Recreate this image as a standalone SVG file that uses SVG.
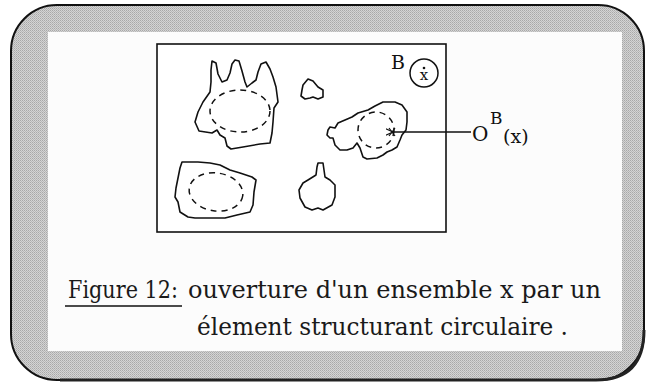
<svg xmlns="http://www.w3.org/2000/svg" width="648" height="384" viewBox="0 0 648 384">
<style>
.blob{fill:none;stroke:#111;stroke-width:1.6;stroke-linejoin:round}
.dash{fill:none;stroke:#111;stroke-width:1.5;stroke-dasharray:6 5}
.cap{font-family:"DejaVu Serif","Liberation Serif",serif;font-size:24px;fill:#1a1a1a}
.lbl{font-family:"DejaVu Serif","Liberation Serif",serif;fill:#111}
</style>
<defs>
<pattern id="dots" width="2" height="2" patternUnits="userSpaceOnUse">
<rect width="2" height="2" fill="#d4d4d4"/>
<rect width="1" height="1" fill="#a8a8a8"/>
<rect x="1" y="1" width="1" height="1" fill="#b8b8b8"/>
</pattern>
<marker id="ah" viewBox="0 0 10 10" refX="1" refY="5" markerWidth="8" markerHeight="8" orient="auto-start-reverse" markerUnits="userSpaceOnUse">
<path d="M10,1 L1,5 L10,9" fill="none" stroke="#111" stroke-width="1.5"/>
</marker>
</defs>
<rect width="648" height="384" fill="#fff"/>
<g id="panel">
<rect x="11" y="5" width="633" height="375" rx="46" ry="46" fill="url(#dots)" stroke="#111" stroke-width="2"/>
<path d="M644,330 Q644,380 596,380 L60,380" fill="none" stroke="#222" stroke-width="3"/>
<rect x="48" y="32" width="574" height="319" fill="#fcfcfc"/>
</g>
<g id="frame">
<rect x="157" y="44" width="289" height="188" fill="#fff" stroke="#111" stroke-width="1.6"/>
</g>
<g id="blob1">
<path class="blob" d="M210,92 L203,102 L198,112 L195,122 L199,131 L212,133 L217,130 L220,135 L225,138 L227,146 L231,149 L243,147 L260,144 L270,143 L272,133 L273,122 L274,108 L278,102 L276,87 L273,77 L270,69 L266,62 L261,64 L258,72 L256,80 L252,83 L247,87 L245,82 L242,71 L239,61 L235,60 L232,64 L230,73 L227,80 L222,82 L218,74 L216,63 L212,61 L211,70 L211,82 Z"/>
<ellipse class="dash" cx="240" cy="111" rx="30" ry="21"/>
</g>
<g id="blob2">
<path class="blob" d="M328,130 L330,127 L335,128 L338,123 L345,120 L352,117 L358,113 L368,110 L375,106 L383,102 L395,102 L402,105 L407,112 L407,122 L406,130 L402,135 L400,140 L397,147 L392,150 L387,152 L383,155 L377,158 L367,159 L363,157 L360,148 L357,143 L353,148 L347,150 L340,150 L335,145 L333,138 L330,138 L327,135 Z"/>
<circle class="dash" cx="376" cy="130" r="18"/>
<path d="M389,128 L395,136 M395,128 L389,136" stroke="#111" stroke-width="1.2"/>
</g>
<g id="blob3">
<path class="blob" d="M182,162 L198,162 L210,163 L220,165 L230,170 L240,173 L252,177 L256,180 L254,192 L253,205 L250,212 L237,215 L225,218 L208,218 L195,218 L188,217 L180,212 L178,202 L175,197 L176,188 L178,178 L180,168 Z"/>
<ellipse class="dash" cx="216" cy="192" rx="27" ry="19" transform="rotate(8 216 192)"/>
</g>
<g id="heart">
<path class="blob" d="M302,90 L303,85 L308,79 L313,81 L318,87 L323,90 L323,97 L318,99 L313,97 L310,98 L305,99 L301,96 Z"/>
</g>
<g id="thumb">
<path class="blob" d="M318,163 L323,163 L325,177 L330,180 L335,185 L335,197 L332,205 L323,210 L318,208 L312,210 L305,207 L300,198 L299,190 L303,183 L308,180 L316,175 L317,167 Z"/>
</g>
<g id="element-B">
<text class="lbl" x="391" y="69" font-size="19">B</text>
<circle cx="424" cy="73" r="14" fill="none" stroke="#111" stroke-width="1.5"/>
<circle cx="424" cy="68" r="1.3" fill="#111"/>
<text class="lbl" x="424" y="80" font-size="15" text-anchor="middle">x</text>
</g>
<g id="label-OB">
<text class="lbl" x="472" y="141" font-size="20">O</text>
<text class="lbl" x="490" y="124" font-size="17">B</text>
<text class="lbl" x="503" y="143" font-size="19">(x)</text>
</g>
<g id="connectors">
<line x1="471" y1="132" x2="393" y2="132" stroke="#111" stroke-width="1.5" marker-end="url(#ah)"/>
</g>
<g id="caption">
<text class="cap" x="68" y="298" textLength="110" lengthAdjust="spacingAndGlyphs">Figure 12:</text>
<line x1="65" y1="306" x2="182" y2="306" stroke="#111" stroke-width="1.5"/>
<text class="cap" x="188" y="298" textLength="413" lengthAdjust="spacingAndGlyphs">ouverture d'un ensemble x par un</text>
<text class="cap" x="197" y="335" textLength="371" lengthAdjust="spacingAndGlyphs">élement structurant circulaire .</text>
</g>
</svg>
